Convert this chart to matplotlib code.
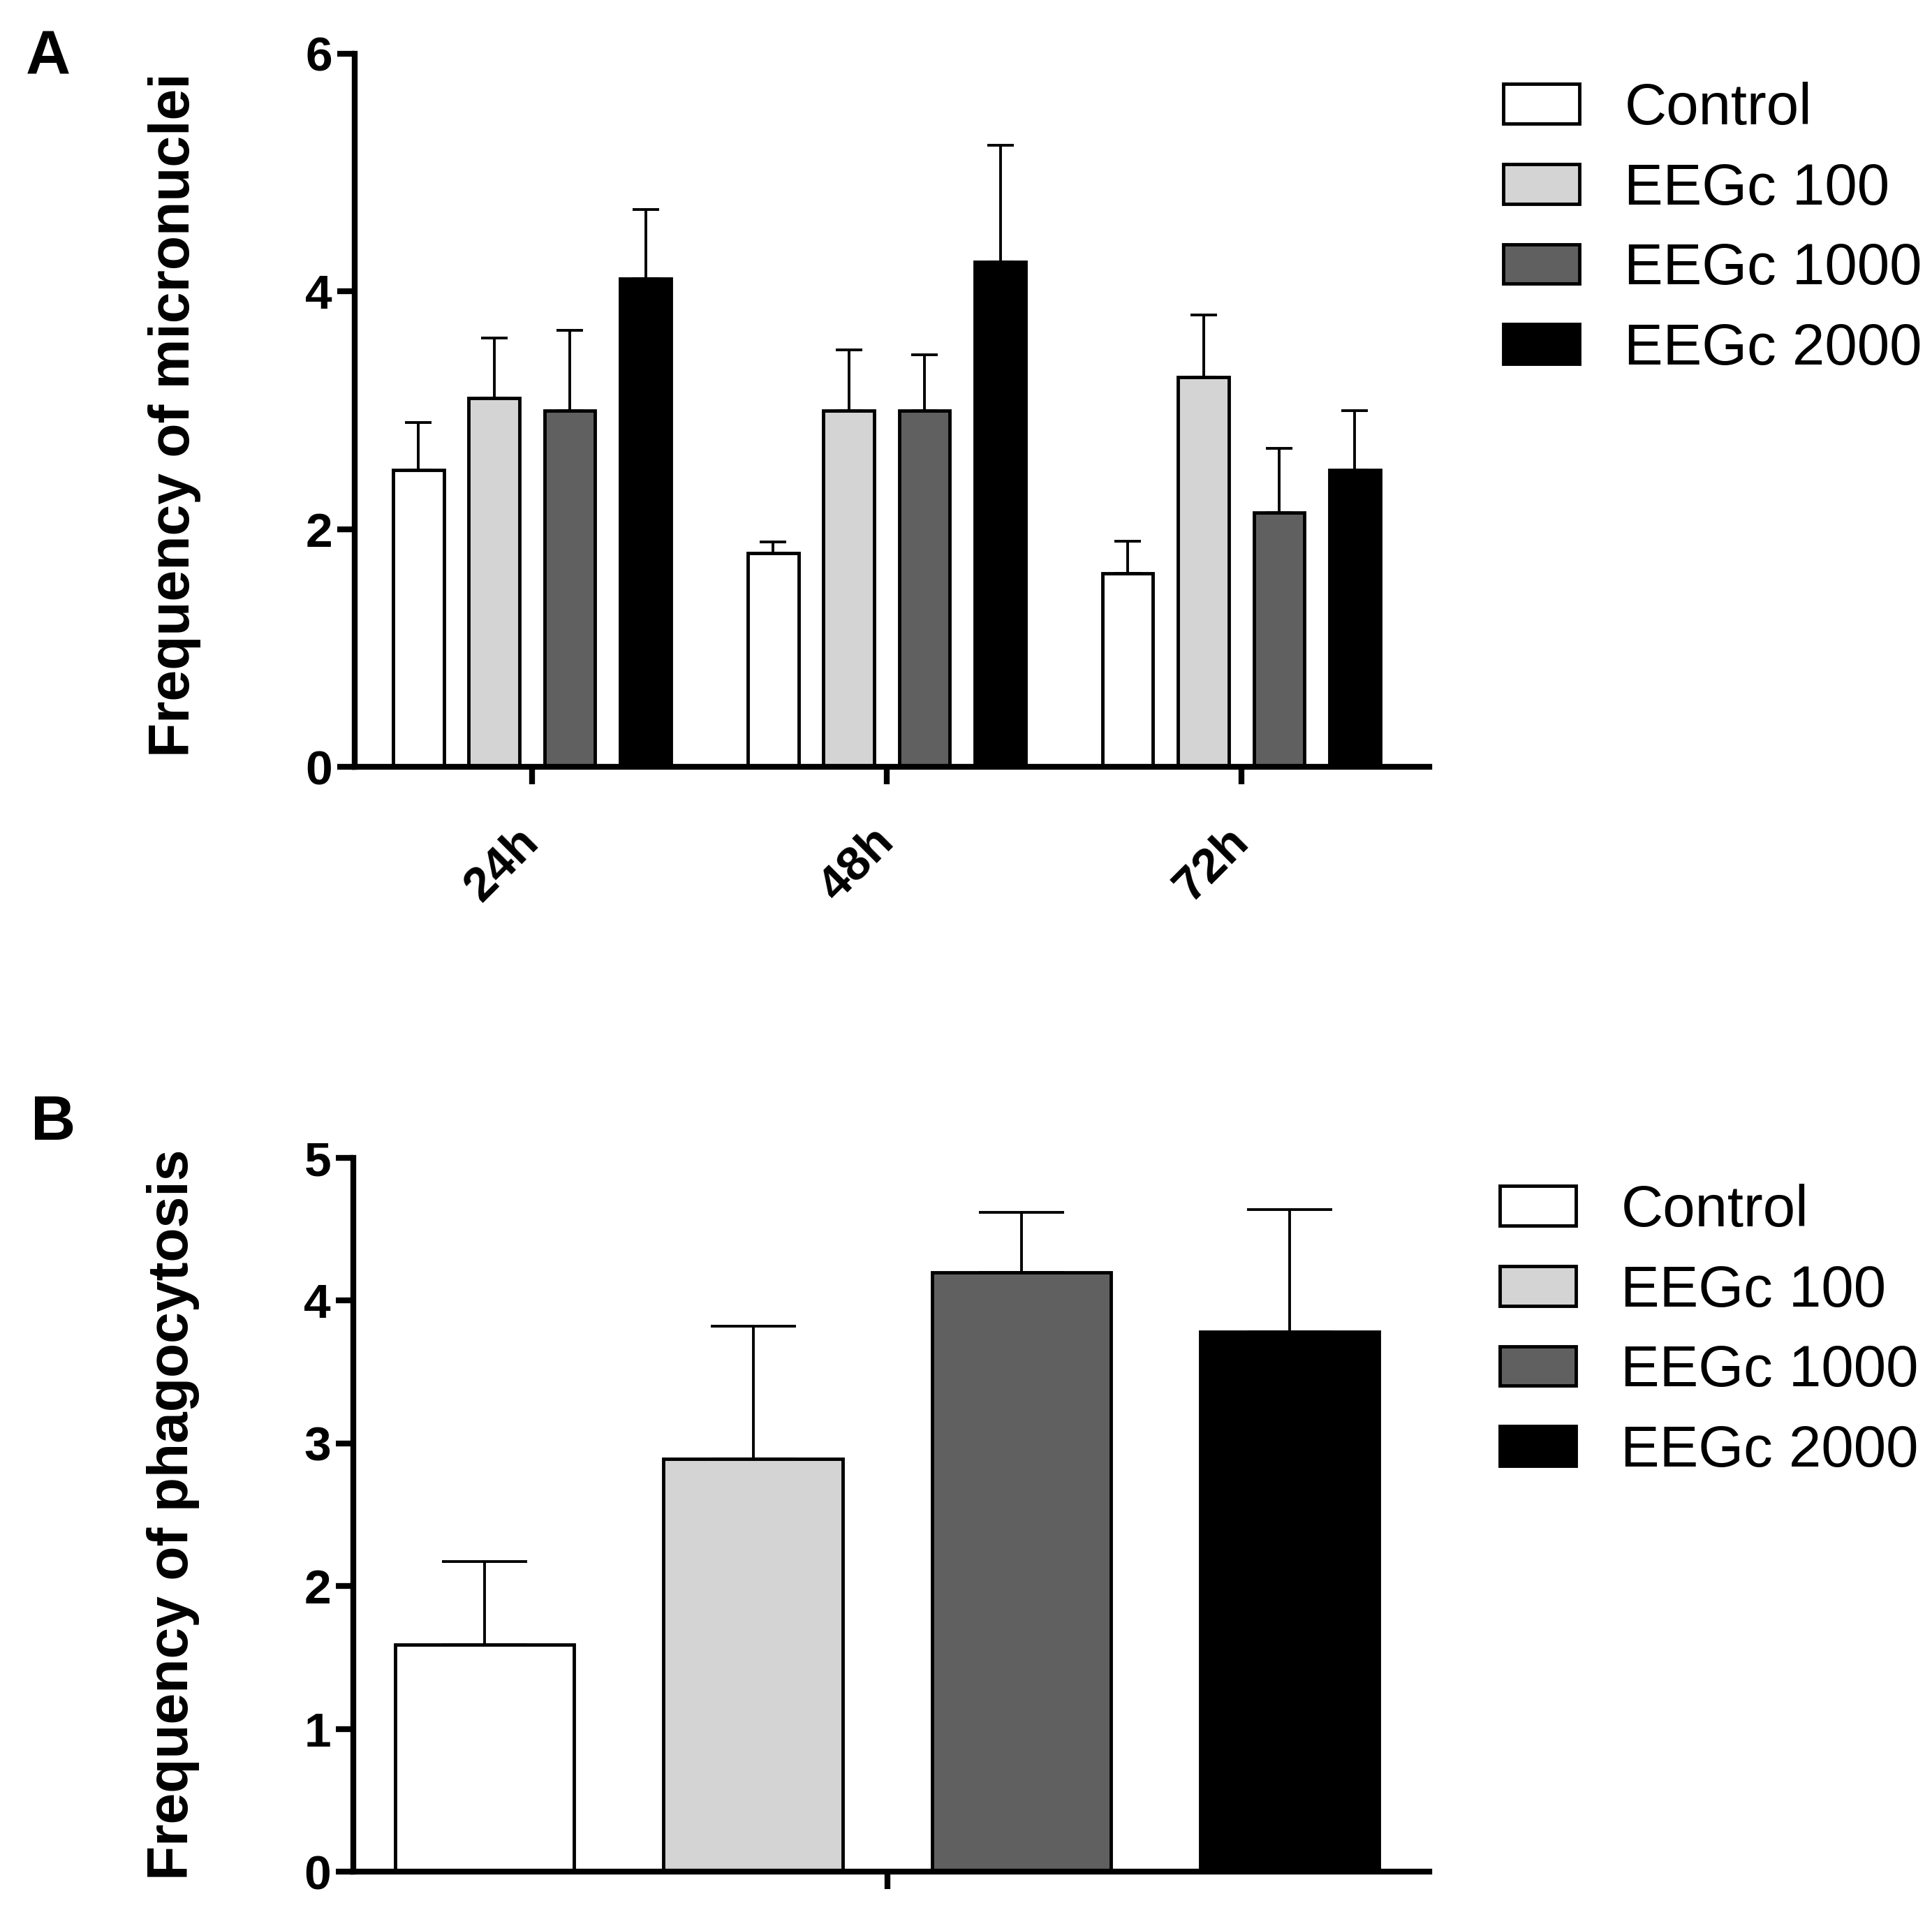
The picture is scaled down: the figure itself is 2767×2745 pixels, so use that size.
import matplotlib
matplotlib.use("Agg")
import matplotlib.pyplot as plt
import numpy as np

plt.rcParams['font.family'] = ['Liberation Sans', 'DejaVu Sans']

# ---- data ----
series = ["Control", "EEGc 100", "EEGc 1000", "EEGc 2000"]
colors = ["#ffffff", "#d4d4d4", "#606060", "#000000"]

times = ["24h", "48h", "72h"]
micronuclei_control = [2.50, 1.80, 1.63]
micronuclei_100 = [3.10, 3.00, 3.28]
micronuclei_1000 = [3.00, 3.00, 2.14]
micronuclei_2000 = [4.11, 4.25, 2.50]
micronuclei_err_control = [0.40, 0.09, 0.27]
micronuclei_err_100 = [0.51, 0.51, 0.52]
micronuclei_err_1000 = [0.67, 0.47, 0.54]
micronuclei_err_2000 = [0.58, 0.98, 0.50]

phago_values = [1.59, 2.89, 4.20, 3.78]
phago_err = [0.58, 0.93, 0.42, 0.86]

A_yticks = [0, 2, 4, 6]
B_yticks = [0, 1, 2, 3, 4, 5]

W, H = 2767, 2745
fig = plt.figure(figsize=(W / 100, H / 100), dpi=100)

TICKFS = 50
LABELFS = 58
LEGFS = 60

def style_axes(ax):
    for s in ["top", "right"]:
        ax.spines[s].set_visible(False)
    for s in ["left", "bottom"]:
        ax.spines[s].set_linewidth(6)
    ax.tick_params(axis="y", direction="out", length=18, width=6, pad=5,
                   labelsize=TICKFS)
    ax.tick_params(axis="x", direction="out", length=18, width=6)
    for lab in ax.get_yticklabels():
        lab.set_fontweight("bold")

# ---- Panel A ----
axA = fig.add_axes([508 / W, 1 - 1098 / H, (2047 - 508) / W, (1098 - 77) / H])
x = np.arange(len(times))
step = 0.2135
width = 0.143
vals = [micronuclei_control, micronuclei_100, micronuclei_1000, micronuclei_2000]
errs = [micronuclei_err_control, micronuclei_err_100, micronuclei_err_1000, micronuclei_err_2000]
for i, (v, e, c, name) in enumerate(zip(vals, errs, colors, series)):
    pos = x + (i - 1.5) * step
    axA.bar(pos, v, width=width, color=c, edgecolor="black", linewidth=3.5,
            label=name, zorder=2)
    axA.errorbar(pos, v, yerr=[np.zeros(len(e)), e], fmt="none", ecolor="black",
                 elinewidth=2.8, capsize=14, capthick=2.8, zorder=1)
axA.set_xlim(-0.5, 2.53)
axA.set_ylim(0, 6)
axA.set_yticks(A_yticks)
axA.set_xticks(x)
axA.set_xticklabels(times, rotation=45, ha="right", va="center",
                    rotation_mode="anchor", fontsize=TICKFS, fontweight="bold")
style_axes(axA)
axA.tick_params(axis="x", pad=52)
axA.set_ylabel("Frequency of micronuclei", fontsize=LABELFS, fontweight="bold")
axA.yaxis.set_label_coords(-0.143, 0.493)

hA, lA = axA.get_legend_handles_labels()
fig.legend(hA, lA, loc="upper left", bbox_to_anchor=(2153 / W, 1 - 117 / H),
           frameon=False, fontsize=LEGFS, handlelength=1.31, handleheight=0.67,
           handletextpad=0.77, labelspacing=0.44, borderpad=0, borderaxespad=0)

# ---- Panel B ----
axB = fig.add_axes([506 / W, 1 - 2680 / H, (2047 - 506) / W, (2680 - 1658) / H])
xb = np.arange(len(series))
barsB = axB.bar(xb, phago_values, width=0.667, color=colors, edgecolor="black",
                linewidth=3.5, zorder=2)
axB.errorbar(xb, phago_values, yerr=[np.zeros(len(phago_err)), phago_err],
             fmt="none", ecolor="black", elinewidth=2.8, capsize=44,
             capthick=2.8, zorder=1)
axB.set_xlim(-0.49, 3.52)
axB.set_ylim(0, 5)
axB.set_yticks(B_yticks)
axB.set_xticks([1.5])
axB.set_xticklabels([""])
style_axes(axB)
axB.set_ylabel("Frequency of phagocytosis", fontsize=LABELFS, fontweight="bold")
axB.yaxis.set_label_coords(-0.143, 0.5)

fig.legend(list(barsB), series, loc="upper left",
           bbox_to_anchor=(2148 / W, 1 - 1695 / H),
           frameon=False, fontsize=LEGFS, handlelength=1.31, handleheight=0.67,
           handletextpad=0.77, labelspacing=0.44, borderpad=0, borderaxespad=0)

fig.text(37 / W, 1 - 42 / H, "A", fontsize=64, fontweight="bold", va="top", ha="left")
fig.text(44 / W, 1 - 1567 / H, "B", fontsize=64, fontweight="bold", va="top", ha="left")

fig.savefig("out.png", dpi=100, facecolor="white")
